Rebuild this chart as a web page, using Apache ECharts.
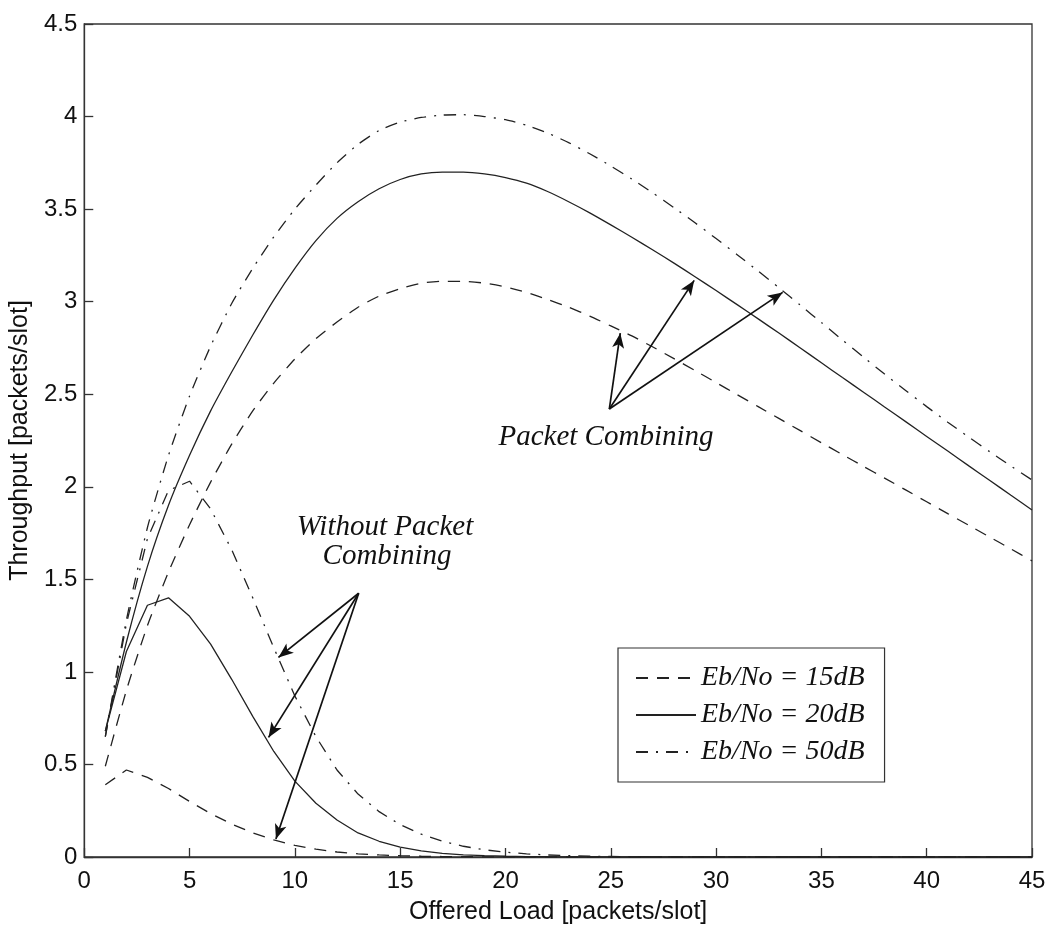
<!DOCTYPE html>
<html>
<head>
<meta charset="utf-8">
<script src="https://cdn.jsdelivr.net/npm/echarts@6/dist/echarts.min.js"></script>
<style>
  html, body { margin: 0; padding: 0; background: #fff; }
  #chart { width: 1049px; height: 930px; }
</style>
</head>
<body>
<div id="chart"></div>
<script>
// Offered load (packets/slot)
const offeredLoad = Array.from({ length: 45 }, (_, i) => i + 1);

// Throughput with packet combining
const pc15 = [0.49, 0.90, 1.25, 1.54, 1.795, 2.025, 2.23, 2.41, 2.56, 2.69,
              2.80, 2.89, 2.97, 3.03, 3.07, 3.10, 3.11, 3.11, 3.10, 3.08,
              3.05, 3.012, 2.97, 2.922, 2.869, 2.815, 2.755, 2.692, 2.628, 2.563,
              2.498, 2.433, 2.368, 2.303, 2.238, 2.174, 2.11, 2.047, 1.983, 1.919,
              1.855, 1.792, 1.728, 1.664, 1.60];
const pc20 = [0.68, 1.16, 1.57, 1.90, 2.17, 2.41, 2.62, 2.82, 3.01, 3.18,
              3.33, 3.45, 3.54, 3.61, 3.66, 3.69, 3.70, 3.70, 3.69, 3.67,
              3.64, 3.595, 3.54, 3.48, 3.415, 3.348, 3.279, 3.208, 3.135, 3.06,
              2.984, 2.907, 2.829, 2.75, 2.67, 2.59, 2.511, 2.431, 2.352, 2.272,
              2.193, 2.113, 2.034, 1.954, 1.875];
const pc50 = [0.65, 1.28, 1.78, 2.17, 2.49, 2.76, 2.99, 3.18, 3.35, 3.50,
              3.63, 3.75, 3.85, 3.925, 3.97, 3.995, 4.008, 4.01, 4.00, 3.983,
              3.953, 3.911, 3.859, 3.799, 3.733, 3.662, 3.587, 3.508, 3.426, 3.341,
              3.254, 3.165, 3.074, 2.981, 2.887, 2.793, 2.70, 2.609, 2.52, 2.433,
              2.349, 2.268, 2.189, 2.112, 2.037];

// Throughput without packet combining
const np15 = [0.39, 0.47, 0.43, 0.37, 0.30, 0.235, 0.178, 0.13, 0.092, 0.063,
              0.042, 0.027, 0.017, 0.011, 0.007, 0.004, 0.0025, 0.0015, 0.001, 0.0006,
              0.0003, 0, 0, 0, 0, 0, 0, 0, 0, 0,
              0, 0, 0, 0, 0, 0, 0, 0, 0, 0,
              0, 0, 0, 0, 0];
const np20 = [0.68, 1.11, 1.36, 1.40, 1.30, 1.15, 0.96, 0.76, 0.57, 0.41,
              0.29, 0.20, 0.13, 0.085, 0.053, 0.033, 0.02, 0.012, 0.007, 0.004,
              0.0025, 0.0015, 0.001, 0.0005, 0.0002, 0, 0, 0, 0, 0,
              0, 0, 0, 0, 0, 0, 0, 0, 0, 0,
              0, 0, 0, 0, 0];
const np50 = [0.65, 1.26, 1.72, 1.98, 2.03, 1.88, 1.66, 1.40, 1.13, 0.87,
              0.65, 0.47, 0.34, 0.245, 0.175, 0.123, 0.085, 0.058, 0.039, 0.026,
              0.017, 0.011, 0.007, 0.0045, 0.003, 0.002, 0.001, 0.0005, 0.0002, 0,
              0, 0, 0, 0, 0, 0, 0, 0, 0, 0,
              0, 0, 0, 0, 0];

const seriesNames = ['Eb/No = 15dB', 'Eb/No = 20dB', 'Eb/No = 50dB'];

// Arrow annotations (data coordinates): from label anchor to curve
const pcArrowFrom = [24.93, 2.42];
const pcArrowTo = [[25.45, 2.83], [28.96, 3.115], [33.16, 3.05]];
const npArrowFrom = [13.03, 1.425];
const npArrowTo = [[9.22, 1.078], [8.75, 0.646], [9.10, 0.097]];

const INK = '#222';
const dashStyles = {
  'Eb/No = 15dB': [12, 9],
  'Eb/No = 20dB': 'solid',
  'Eb/No = 50dB': [12, 8, 2, 8]
};

function pairs(ys) { return offeredLoad.map((x, i) => [x, ys[i]]); }

function curve(name, ys, extra) {
  return Object.assign({
    name: name,
    type: 'line',
    data: pairs(ys),
    symbol: 'none',
    showSymbol: false,
    smooth: false,
    animation: false,
    silent: true,
    lineStyle: { color: INK, width: 1.3, type: dashStyles[name] },
    itemStyle: { color: INK }
  }, extra || {});
}

function arrows(from, tos) {
  return tos.map(t => [{ coord: from }, { coord: t }]);
}

const chart = echarts.init(document.getElementById('chart'), null, { renderer: 'canvas' });

const axisCommon = {
  axisLine: { show: true, lineStyle: { color: '#333', width: 1.3 } },
  axisTick: { show: true, inside: true, length: 9, lineStyle: { color: '#333', width: 1.3 } },
  splitLine: { show: false },
  nameTextStyle: { fontFamily: 'Liberation Sans', fontSize: 25, color: '#111' }
};

chart.setOption({
  backgroundColor: '#fff',
  animation: false,
  grid: {
    left: 82, right: 17, top: 24, bottom: 72,
    show: true, borderColor: '#333', borderWidth: 1.3, backgroundColor: 'transparent'
  },
  xAxis: Object.assign({}, axisCommon, {
    type: 'value', min: 0, max: 45, interval: 5,
    name: 'Offered Load [packets/slot]', nameLocation: 'middle', nameGap: 43,
    axisLabel: { fontFamily: 'Liberation Sans', fontSize: 24, color: '#111', margin: 12 }
  }),
  yAxis: Object.assign({}, axisCommon, {
    type: 'value', min: 0, max: 4.5, interval: 0.5,
    name: 'Throughput [packets/slot]', nameLocation: 'middle', nameGap: 42,
    axisLabel: { fontFamily: 'Liberation Sans', fontSize: 24, color: '#111', margin: 7 }
  }),
  legend: {
    data: seriesNames,
    orient: 'vertical',
    left: 618, top: 648,
    padding: [16, 20, 16, 17],
    itemWidth: 60, itemHeight: 14, itemGap: 9,
    borderColor: '#333', borderWidth: 1.2,
    backgroundColor: '#fff',
    selectedMode: false,
    itemStyle: { opacity: 0, borderWidth: 0 },
    textStyle: { fontFamily: 'Liberation Serif', fontStyle: 'italic', fontSize: 28, color: '#111', lineHeight: 28 }
  },
  series: [
    curve(seriesNames[0], pc15, {
      smooth: 0.2,
      markLine: {
        silent: true, animation: false,
        symbol: ['none', 'arrow'], symbolSize: [9, 15],
        label: { show: false },
        lineStyle: { color: '#111', width: 1.7, type: 'solid' },
        data: arrows(pcArrowFrom, pcArrowTo).concat(arrows(npArrowFrom, npArrowTo))
      }
    }),
    curve(seriesNames[1], pc20, { smooth: 0.2 }),
    curve(seriesNames[2], pc50, { smooth: 0.2 }),
    curve(seriesNames[0], np15),
    curve(seriesNames[1], np20),
    curve(seriesNames[2], np50)
  ],
  graphic: [
    { type: 'text', x: 606, y: 437, silent: true,
      style: { text: 'Packet Combining', fill: '#111', align: 'center', verticalAlign: 'middle',
               textAlign: 'center', textVerticalAlign: 'middle',
               font: 'italic 29px "Liberation Serif"' } },
    { type: 'text', x: 385, y: 527, silent: true,
      style: { text: 'Without Packet', fill: '#111', align: 'center', verticalAlign: 'middle',
               textAlign: 'center', textVerticalAlign: 'middle',
               font: 'italic 29px "Liberation Serif"' } },
    { type: 'text', x: 387, y: 556, silent: true,
      style: { text: 'Combining', fill: '#111', align: 'center', verticalAlign: 'middle',
               textAlign: 'center', textVerticalAlign: 'middle',
               font: 'italic 29px "Liberation Serif"' } }
  ]
});
</script>
</body>
</html>
